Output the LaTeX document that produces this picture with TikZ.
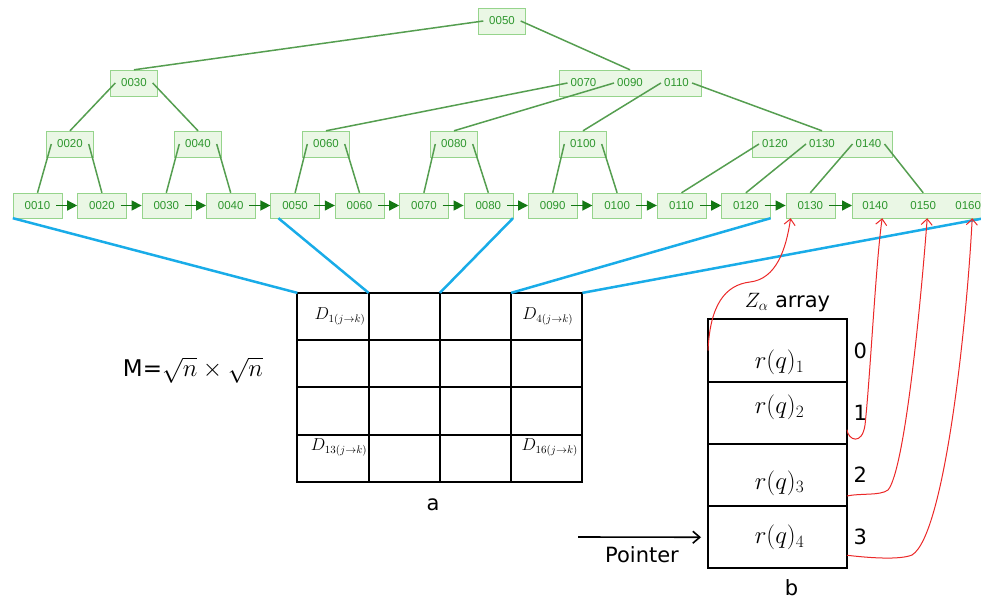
\documentclass[tikz,border=0pt]{standalone}
\usepackage{fontspec}
\setmainfont{DejaVu Sans}
\newfontfamily\keyfont{Liberation Sans}
\usetikzlibrary{arrows.meta,positioning,calc}

\definecolor{boxfill}{RGB}{234,247,229}
\definecolor{boxline}{RGB}{150,212,140}
\definecolor{keygreen}{RGB}{45,150,45}
\definecolor{treeline}{RGB}{85,158,80}
\definecolor{linkgreen}{RGB}{20,120,20}
\definecolor{mapblue}{RGB}{25,172,232}
\definecolor{ptrred}{RGB}{235,40,40}

\begin{document}
\begin{tikzpicture}[
    x=1pt, y=-1pt,
    leaf/.style={rectangle, draw=boxline, fill=boxfill, text=keygreen, font=\keyfont\fontsize{11.5}{13}\selectfont, minimum width=49pt, minimum height=25pt, inner sep=0pt},
    ibox/.style={leaf, minimum width=47pt, minimum height=26pt},
    keytxt/.style={text=keygreen, font=\keyfont\fontsize{11.5}{13}\selectfont, inner sep=3pt},
    branch/.style={draw=treeline, line width=1.5pt},
    link/.style={-{Triangle[length=10pt,width=10pt]}, draw=linkgreen, line width=1.4pt, shorten <=-6pt},
    mapline/.style={draw=mapblue, line width=2.5pt},
    cell/.style={rectangle, draw, line width=2pt, minimum width=71.25pt, minimum height=47.25pt, inner sep=0pt, outer sep=0pt},
    slot/.style={rectangle, draw, line width=2pt, minimum width=139pt, minimum height=62.25pt, inner sep=0pt, outer sep=0pt},
    dlab/.style={font=\fontsize{16}{18}\selectfont},
    rq/.style={font=\fontsize{26}{30}\selectfont},
    big/.style={font=\fontsize{21}{25}\selectfont},
    zref/.style={-{Straight Barb[length=6pt,width=11pt]}, draw=ptrred, line width=1pt}
]
\useasboundingbox (0,0) rectangle (981,601);

% Upper levels
\node[ibox] (r0050) at (502,21) {0050};
\node[ibox] (i0030) at (134,83) {0030};
\node[ibox, minimum width=142pt] (i0070) at (630,83) {};
\node[keytxt] (k0070) at ([xshift=-46.5pt]i0070.center) {0070};
\node[keytxt] (k0090) at (i0070.center) {0090};
\node[keytxt] (k0110) at ([xshift=46.5pt]i0070.center) {0110};

\node[ibox] (i0020) at (70,144) {0020};
\node[ibox] (i0040) at (198,144) {0040};
\node[ibox] (i0060) at (326,144) {0060};
\node[ibox] (i0080) at (454,144) {0080};
\node[ibox] (i0100) at (583,144) {0100};
\node[ibox, minimum width=140pt] (i0120) at (822,144) {};
\node[keytxt] (k0120) at ([xshift=-47pt]i0120.center) {0120};
\node[keytxt] (k0130) at (i0120.center) {0130};
\node[keytxt] (k0140) at ([xshift=46.5pt]i0120.center) {0140};

% Leaves
\node[leaf] (l0010) at (37.5,205.5) {0010};
\node[leaf, right=15pt of l0010] (l0020) {0020};
\node[leaf, right=15pt of l0020] (l0030) {0030};
\node[leaf, right=15pt of l0030] (l0040) {0040};
\node[leaf, right=15pt of l0040] (l0050) {0050};
\node[leaf, right=15pt of l0050] (l0060) {0060};
\node[leaf, right=15pt of l0060] (l0070) {0070};
\node[leaf, right=15pt of l0070] (l0080) {0080};
\node[leaf, right=15pt of l0080] (l0090) {0090};
\node[leaf, right=15pt of l0090] (l0100) {0100};
\node[leaf, right=15pt of l0100] (l0110) {0110};
\node[leaf, right=15pt of l0110] (l0120) {0120};
\node[leaf, right=15pt of l0120] (l0130) {0130};
\node[leaf, minimum width=132pt, right=17pt of l0130] (ltail) {};
\node[keytxt] (l0140) at ([xshift=-43pt]ltail.center) {0140};
\node[keytxt] (l0150) at ([xshift=5pt]ltail.center) {0150};
\node[keytxt] (l0160) at ([xshift=50pt]ltail.center) {0160};

% Tree edges
\draw[branch] ([xshift=5pt]r0050.west) -- (i0030.north);
\draw[branch] ([xshift=-5pt]r0050.east) -- (i0070.north);
\draw[branch] ([xshift=5pt]i0030.west) -- (i0020.north);
\draw[branch] ([xshift=-5pt]i0030.east) -- (i0040.north);
\draw[branch] (k0070.west) -- (i0060.north);
\draw[branch] (k0090.west) -- (i0080.north);
\draw[branch] (k0110.west) -- (i0100.north);
\draw[branch] (k0110.east) -- (i0120.north);
\draw[branch] ([xshift=5pt]i0020.west) -- (l0010.north);
\draw[branch] ([xshift=-5pt]i0020.east) -- (l0020.north);
\draw[branch] ([xshift=5pt]i0040.west) -- (l0030.north);
\draw[branch] ([xshift=-5pt]i0040.east) -- (l0040.north);
\draw[branch] ([xshift=5pt]i0060.west) -- (l0050.north);
\draw[branch] ([xshift=-5pt]i0060.east) -- (l0060.north);
\draw[branch] ([xshift=5pt]i0080.west) -- (l0070.north);
\draw[branch] ([xshift=-5pt]i0080.east) -- (l0080.north);
\draw[branch] ([xshift=5pt]i0100.west) -- (l0090.north);
\draw[branch] ([xshift=-5pt]i0100.east) -- (l0100.north);
\draw[branch] (k0120.west) -- (l0110.north);
\draw[branch] (k0130.west) -- (l0120.north);
\draw[branch] (k0140.west) -- (l0130.north);
\draw[branch] (k0140.east) -- (l0150 |- ltail.north);

% Leaf links
\draw[link] (l0010) -- (l0020);
\draw[link] (l0020) -- (l0030);
\draw[link] (l0030) -- (l0040);
\draw[link] (l0040) -- (l0050);
\draw[link] (l0050) -- (l0060);
\draw[link] (l0060) -- (l0070);
\draw[link] (l0070) -- (l0080);
\draw[link] (l0080) -- (l0090);
\draw[link] (l0090) -- (l0100);
\draw[link] (l0100) -- (l0110);
\draw[link] (l0110) -- (l0120);
\draw[link] (l0120) -- (l0130);
\draw[link] (l0130) -- (ltail);

% Matrix a
\node[cell] (m11) at (333,316.5) {};
\node[cell, right=0pt of m11] (m12) {};
\node[cell, right=0pt of m12] (m13) {};
\node[cell, right=0pt of m13] (m14) {};
\node[cell, below=0pt of m11] (m21) {};
\node[cell, right=0pt of m21] (m22) {};
\node[cell, right=0pt of m22] (m23) {};
\node[cell, right=0pt of m23] (m24) {};
\node[cell, below=0pt of m21] (m31) {};
\node[cell, right=0pt of m31] (m32) {};
\node[cell, right=0pt of m32] (m33) {};
\node[cell, right=0pt of m33] (m34) {};
\node[cell, below=0pt of m31] (m41) {};
\node[cell, right=0pt of m41] (m42) {};
\node[cell, right=0pt of m42] (m43) {};
\node[cell, right=0pt of m43] (m44) {};
\node[dlab] (d1) at ([xshift=7pt]m11.center) {$D_{1(j\to k)}$};
\node[dlab] (d4) at ([xshift=1pt]m14.center) {$D_{4(j\to k)}$};
\node[dlab] (d13) at ([xshift=6pt,yshift=11pt]m41.center) {$D_{13(j\to k)}$};
\node[dlab] (d16) at ([xshift=3pt,yshift=11pt]m44.center) {$D_{16(j\to k)}$};
\node[big] (alab) at (433,505) {a};
\node[big, font=\fontsize{23}{27}\selectfont] (mform) at (193,370) {M=$\sqrt{n}\times\sqrt{n}$};

% Blue mapping lines
\draw[mapline] (l0010.south west) -- (m11.north west);
\draw[mapline] ([xshift=8pt]l0050.south west) -- (m12.north west);
\draw[mapline] (l0080.south east) -- (m13.north west);
\draw[mapline] (l0120.south east) -- (m14.north west);
\draw[mapline] (ltail.south east) -- (m14.north east);

% Array b
\node[slot] (c1) at (777.5,350.5) {};
\node[slot, below=0pt of c1] (c2) {};
\node[slot, below=0pt of c2] (c3) {};
\node[slot, below=0pt of c3] (c4) {};
\node[rq] (q1) at ([xshift=2pt,yshift=-12pt]c1.center) {$r(q)_1$};
\node[rq] (q2) at ([xshift=2pt,yshift=5pt]c2.center) {$r(q)_2$};
\node[rq] (q3) at ([xshift=2pt,yshift=-8pt]c3.center) {$r(q)_3$};
\node[rq] (q4) at ([xshift=2pt]c4.center) {$r(q)_4$};
\node[big, right=3pt of c1] (ix0) {0};
\node[big, right=3pt of c2] (ix1) {1};
\node[big, right=3pt of c3] (ix2) {2};
\node[big, right=3pt of c4] (ix3) {3};
\node[big, above=4pt of c1, xshift=10pt] (zarr) {$Z_\alpha$ array};
\node[big, below=8pt of c4, xshift=14pt] (blab) {b};

% Pointer
\coordinate (pstart) at (578,537);
\draw[-{Straight Barb[length=7pt,width=12pt]}, line width=1.6pt] (pstart) -- ([xshift=-7pt]c4.west);
\node[big] (ptr) at (642,555) {Pointer};

% Red references
\draw[zref] (c1.west) .. controls (710,305) and (725,285) .. (750,282) .. controls (776,279) and (786,250) .. ($(l0130.south west)+(5,0)$);
\draw[zref] ([yshift=-17pt]c2.east) .. controls (848,440) and (862,446) .. (865,425) .. controls (870,380) and (876,260) .. ($(l0140 |- ltail.south)+(7,0)$);
\draw[zref] ([yshift=-21pt]c3.east) .. controls (860,493) and (880,496) .. (888,490) .. controls (905,470) and (921,300) .. ($(l0150 |- ltail.south)+(4,0)$);
\draw[zref] ([yshift=-18pt]c4.east) .. controls (870,558) and (900,560) .. (912,555) .. controls (945,535) and (967,320) .. ($(l0160 |- ltail.south)+(4,0)$);

\end{tikzpicture}
\end{document}
